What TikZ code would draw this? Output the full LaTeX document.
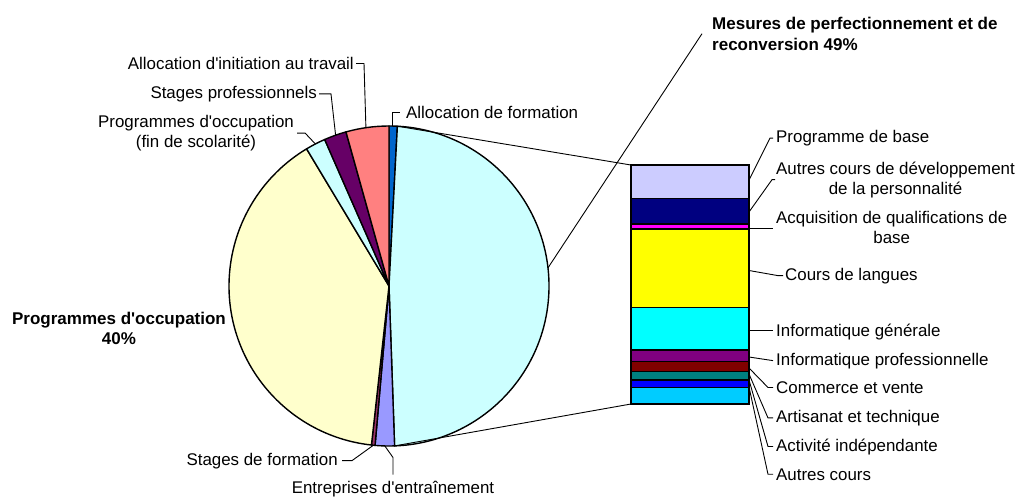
\documentclass[tikz,border=0pt]{standalone}
\usepackage{fontspec}
\setmainfont{Liberation Sans}
\usetikzlibrary{calc}
\definecolor{cAF}{HTML}{0066CC}
\definecolor{cMES}{HTML}{CCFFFF}
\definecolor{cENT}{HTML}{9999FF}
\definecolor{cSDF}{HTML}{993366}
\definecolor{cPO}{HTML}{FFFFCC}
\definecolor{cPOF}{HTML}{CCFFFF}
\definecolor{cSP}{HTML}{660066}
\definecolor{cAIT}{HTML}{FF8080}
\definecolor{bA}{HTML}{CCCCFF}
\definecolor{bB}{HTML}{000080}
\definecolor{bC}{HTML}{FF00FF}
\definecolor{bD}{HTML}{FFFF00}
\definecolor{bE}{HTML}{00FFFF}
\definecolor{bF}{HTML}{800080}
\definecolor{bG}{HTML}{800000}
\definecolor{bH}{HTML}{008080}
\definecolor{bI}{HTML}{0000FF}
\definecolor{bJ}{HTML}{00CCFF}
\newcommand\pieslice[3]{\filldraw[slice, fill=#3] (c) -- ++(#1:160) arc[start angle=#1, end angle=#2, radius=160] -- cycle;}
\newcommand\barseg[3]{\filldraw[seg, fill=#3] (631,-#1) rectangle (749,-#2);}
\newcommand\apo{\textquotesingle}
\begin{document}
\begin{tikzpicture}[x=1pt,y=1pt,
  lbl/.style={font=\fontsize{16.9}{20}\selectfont, inner sep=0pt},
  blbl/.style={font=\fontsize{17}{20.5}\selectfont\bfseries, inner sep=0pt},
  slice/.style={draw=black, line width=1.4pt, line join=round},
  seg/.style={draw=black, line width=1.6pt},
  lead/.style={draw=black, line width=0.9pt}]
\useasboundingbox (0,0) rectangle (1020,-498);
\fill[white] (0,0) rectangle (1020,-498);
\coordinate (c) at (389,-286);
% pie
\pieslice{90}{87}{cAF}
\pieslice{87}{-88}{cMES}
\pieslice{-88}{-95}{cENT}
\pieslice{-95}{-96.3}{cSDF}
\pieslice{-96.3}{-239}{cPO}
\pieslice{-239}{-246.3}{cPOF}
\pieslice{-246.3}{-254.4}{cSP}
\pieslice{-254.4}{-270}{cAIT}
% bar
\barseg{165}{198.5}{bA}
\barseg{198.5}{224}{bB}
\barseg{224}{229}{bC}
\barseg{229}{307.5}{bD}
\barseg{307.5}{350}{bE}
\barseg{350}{361.5}{bF}
\barseg{361.5}{371.5}{bG}
\barseg{371.5}{380}{bH}
\barseg{380}{387.5}{bI}
\barseg{387.5}{404}{bJ}
% pie points
\coordinate (pTop) at ($(c)+(87:160)$);
\coordinate (pBot) at ($(c)+(-88:160)$);
\coordinate (barTL) at (631,-165);
\coordinate (barBL) at (631,-404);
\draw[lead] (pTop) -- (barTL);
\draw[lead] (pBot) -- (barBL);
% labels left / pie
\node[blbl, anchor=north west, align=left] (mes) at (712,-17) {Mesures de perfectionnement et de\\reconversion 49\%};
\node[blbl, anchor=north, align=center] (po) at (119,-311.5) {Programmes d\apo occupation\\40\%};
\node[lbl, anchor=base west] (af) at (406,-118) {Allocation de formation};
\node[lbl, anchor=base east] (ait) at (354,-69.5) {Allocation d\apo initiation au travail};
\node[lbl, anchor=base east] (sp) at (317,-98.3) {Stages professionnels};
\node[lbl, anchor=north, align=center] (pof) at (196,-115) {Programmes d\apo occupation\\(fin de scolarité)};
\node[lbl, anchor=base east] (sdf) at (338,-465) {Stages de formation};
\node[lbl, anchor=base] (ent) at (393,-493) {Entreprises d\apo entraînement};
% right labels
\node[lbl, anchor=base west] (pb) at (776,-142.5) {Programme de base};
\node[lbl, anchor=north west, align=center] (acd) at (776,-161.5) {Autres cours de développement\\de la personnalité};
\node[lbl, anchor=north west, align=center] (aqb) at (776,-211.5) {Acquisition de qualifications de\\base};
\node[lbl, anchor=base west] (cl) at (785,-280) {Cours de langues};
\node[lbl, anchor=base west] (ig) at (776,-336) {Informatique générale};
\node[lbl, anchor=base west] (ip) at (776,-365) {Informatique professionnelle};
\node[lbl, anchor=base west] (cv) at (776,-393.3) {Commerce et vente};
\node[lbl, anchor=base west] (at) at (776,-422.3) {Artisanat et technique};
\node[lbl, anchor=base west] (ai) at (776,-451) {Activité indépendante};
\node[lbl, anchor=base west] (ac) at (776,-480) {Autres cours};
% pie leaders
\coordinate (pMES) at ($(c)+(6.5:160)$);
\coordinate (pAF) at ($(c)+(88.9:160)$);
\coordinate (pAIT) at ($(c)+(98.3:160)$);
\coordinate (pSP) at ($(c)+(109.5:160)$);
\coordinate (pPOF) at ($(c)+(117.4:160)$);
\coordinate (pSDF) at ($(c)+(-95.6:160)$);
\coordinate (pENT) at ($(c)+(-91.5:160)$);
\draw[lead] (pMES) -- ([xshift=-10pt]mes.west);
\draw[lead] (pAF) -- (pAF |- af.west) -- ([xshift=-6pt]af.west);
\draw[lead] (pAIT) -- ([xshift=10pt]ait.east) -- ([xshift=2pt]ait.east);
\draw[lead] (pSP) -- ([xshift=14pt]sp.east) -- ([xshift=2pt]sp.east);
\draw[lead] (pPOF) -- ([xshift=11pt]pof.east) -- ([xshift=3pt]pof.east);
\draw[lead] (pSDF) -- ([xshift=14pt]sdf.east) -- ([xshift=4pt]sdf.east);
\draw[lead] (pENT) -- ([yshift=23pt]ent.north) -- ([yshift=6pt]ent.north);
% bar leaders
\coordinate (bPB) at (749,-180);
\coordinate (bACD) at (749,-212);
\coordinate (bAQB) at (749,-228);
\coordinate (bCL) at (749,-270.5);
\coordinate (bIG) at (749,-330);
\coordinate (bIP) at (749,-357);
\coordinate (bCV) at (749,-368);
\coordinate (bAT) at (749,-374);
\coordinate (bAI) at (749,-380);
\coordinate (bAC) at (749,-387);
\draw[lead] (bPB) -- ([xshift=-6pt]pb.west) -- ([xshift=-3pt]pb.west);
\draw[lead] (bACD) -- ([xshift=-4pt]acd.west) -- ([xshift=-1pt]acd.west);
\draw[lead, shorten >=3pt] (bAQB) -- (bAQB -| aqb.west);
\draw[lead] (bCL) -- ([xshift=-7pt]cl.west) -- ([xshift=-2pt]cl.west);
\draw[lead, shorten >=3pt] (bIG) -- (bIG -| ig.west);
\draw[lead] (bIP) -- ([xshift=-3pt]ip.west);
\draw[lead] (bCV) -- ([xshift=-8pt]cv.west) -- ([xshift=-3pt]cv.west);
\draw[lead] (bAT) -- ([xshift=-8pt]at.west) -- ([xshift=-3pt]at.west);
\draw[lead] (bAI) -- ([xshift=-8pt]ai.west) -- ([xshift=-3pt]ai.west);
\draw[lead] (bAC) -- ([xshift=-8pt]ac.west) -- ([xshift=-3pt]ac.west);
\end{tikzpicture}
\end{document}
